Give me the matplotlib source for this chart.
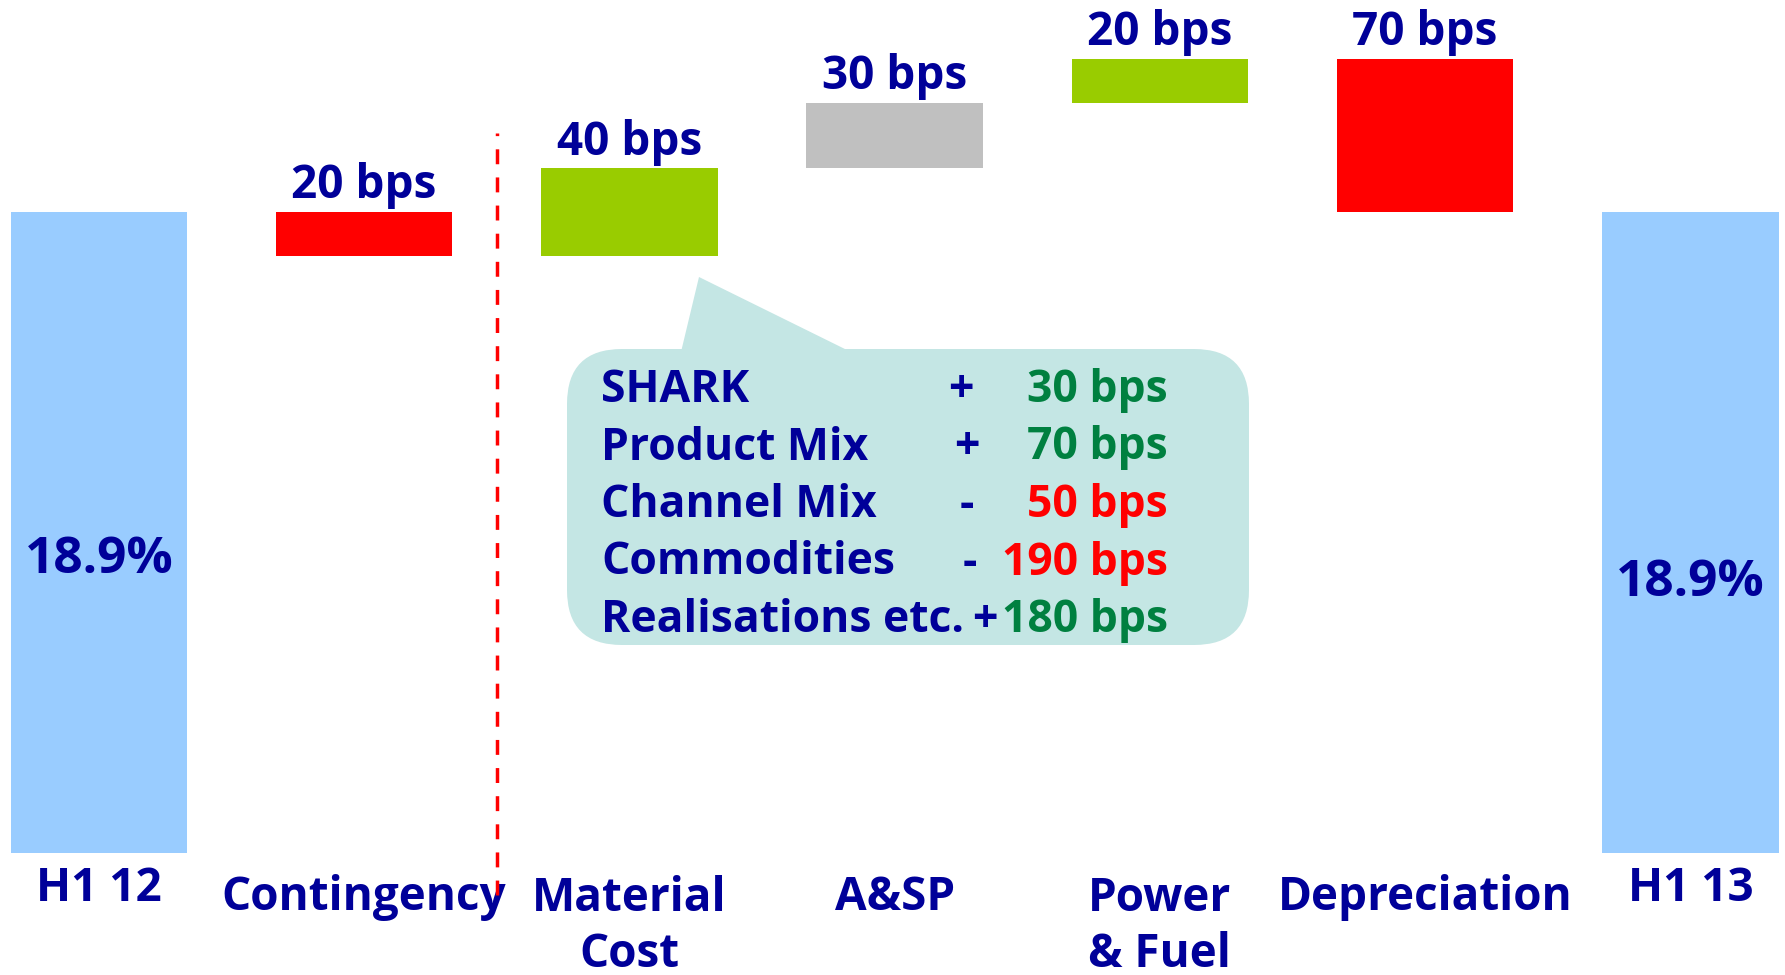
import matplotlib
matplotlib.use("Agg")
import matplotlib.pyplot as plt
from matplotlib.patches import FancyBboxPatch, Polygon

plt.rcParams['font.family'] = ['Open Sans', 'DejaVu Sans']
plt.rcParams['font.weight'] = 'bold'

# data
categories = ['H1 12', 'Contingency', 'Material\nCost', 'A&SP', 'Power\n& Fuel', 'Depreciation', 'H1 13']
start_margin = 18.9
end_margin = 18.9
changes_bps = [-20, 40, 30, 20, -70]
change_colors = ['#FF0000', '#99CC00', '#C0C0C0', '#99CC00', '#FF0000']

callout_items = ['SHARK', 'Product Mix', 'Channel Mix', 'Commodities', 'Realisations etc.']
callout_signs = ['+', '+', '-', '-', '+']
callout_values = ['30 bps', '70 bps', '50 bps', '190 bps', '180 bps']
callout_colors = ['#008040', '#008040', '#FF0000', '#FF0000', '#008040']

NAVY = '#000099'
BLUE = '#99CCFF'
FS = 33

W, H = 1785, 975
fig = plt.figure(figsize=(W / 100, H / 100), dpi=100)
ax = fig.add_axes([0, 122 / H, 1, 853 / H])
ax.set_xlim(-0.373, 6.357)
ax.set_ylim(15.97, 19.87)
ax.axis('off')

bw = 0.665
n = len(categories)

# start / end totals
for i, val, ty in [(0, start_margin, 17.31), (n - 1, end_margin, 17.205)]:
    ax.bar(i, val, width=bw, color=BLUE, zorder=2)
    ax.text(i, ty, f'{val:.1f}%', ha='center', va='center', color=NAVY, fontsize=FS + 4)

# waterfall steps
level = start_margin
for k, (d, c) in enumerate(zip(changes_bps, change_colors)):
    i = k + 1
    new = level + d / 100
    lo, hi = min(level, new), max(level, new)
    ax.bar(i, hi - lo, bottom=lo, width=bw, color=c, zorder=2)
    ax.annotate(f'{abs(d)} bps', (i, hi), xytext=(0, 10), textcoords='offset points',
                ha='center', va='baseline', color=NAVY, fontsize=FS)
    level = new

# category labels under the bars (first-line baseline below the axes)
line_px = 57
for i, lab in enumerate(categories):
    off = -48 if i in (0, n - 1) else -57
    off -= line_px * lab.count('\n')
    ax.annotate(lab, (i, 0), xycoords=('data', 'axes fraction'),
                xytext=(0, off * 0.72), textcoords='offset points',
                ha='center', va='baseline', color=NAVY, fontsize=FS,
                linespacing=line_px * 0.72 / FS, annotation_clip=False)

# separator between contingency and operating items
ax.plot([1.5, 1.5], [15.78, 19.26], color='#FF0000', lw=2.5,
        linestyle=(0, (4.3, 3.8)), clip_on=False, zorder=3)

# callout in pixel space
ov = fig.add_axes([0, 0, 1, 1])
ov.set_xlim(0, W)
ov.set_ylim(H, 0)
ov.axis('off')
ov.patch.set_alpha(0)

fill = '#C4E6E4'
box = FancyBboxPatch((567, 349), 682, 296, boxstyle='round,pad=0,rounding_size=55',
                     facecolor=fill, edgecolor='none')
ov.add_patch(box)
ov.add_patch(Polygon([(681, 352), (699, 277), (851, 352)], closed=True,
                     facecolor=fill, edgecolor='none'))

sign_x = [961, 967, 967, 970, 985]
for r, (item, sg, v, col) in enumerate(zip(callout_items, callout_signs, callout_values, callout_colors)):
    y = 402 + 57.5 * r
    ov.text(601, y, item, ha='left', va='baseline', color=NAVY, fontsize=FS - 1)
    ov.text(sign_x[r], y, sg, ha='center', va='baseline', color=NAVY, fontsize=FS - 1)
    ov.text(1168, y, v, ha='right', va='baseline', color=col, fontsize=FS - 1)

fig.savefig('out.png', dpi=100, facecolor='white')
